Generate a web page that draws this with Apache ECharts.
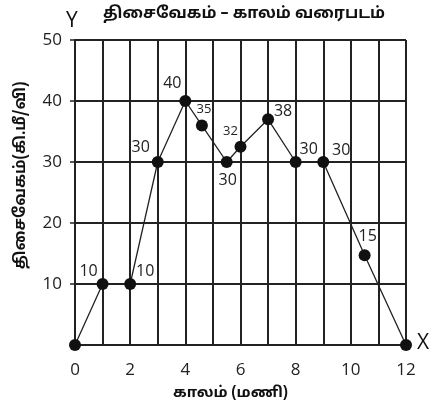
<!DOCTYPE html>
<html>
<head>
<meta charset="utf-8">
<script src="https://cdn.jsdelivr.net/npm/echarts@6/dist/echarts.min.js"></script>
<style>
  html, body { margin: 0; padding: 0; background: #fff; }
  #chart { width: 431px; height: 410px; }
</style>
</head>
<body>
<div id="chart"></div>
<script>
// time (hours) and velocity
const timeVals = [0, 1, 2, 3, 4, 4.6, 5.5, 6, 7, 8, 9, 10.5, 12]
const speedVals = [0, 10, 10, 30, 40, 36, 30, 32.5, 37, 30, 30, 14.7, 0]
// the labels printed next to each point
const pointLabels = ['', '10', '10', '30', '40', '35', '30', '32', '38', '30', '30', '15', '']
const xTicks = [0, 2, 4, 6, 8, 10, 12]
const yTicks = [10, 20, 30, 40, 50]

// where each label sits round its dot (px)
const labelOffset = [[0, 0], [-14, -13], [15, -13], [-17, -15], [-13, -18], [2, -16],
    [1, 18], [-10, -15], [15, -8], [13, -13], [18, -12], [3, -19], [0, 0]]

const font = '"Open Sans", "Noto Sans", "Noto Sans Tamil", sans-serif'
const tamilFont = '"Noto Sans Tamil", "Noto Sans", sans-serif'

let data = []
for (let i = 0; i < timeVals.length; i++) {
    let small = pointLabels[i] == '35' || pointLabels[i] == '32'
    data.push({
        value: [timeVals[i], speedVals[i]],
        label: {
            show: pointLabels[i] !== '',
            formatter: pointLabels[i],
            position: 'inside',
            align: 'center',
            verticalAlign: 'middle',
            offset: labelOffset[i],
            fontSize: small ? 13 : 16
        }
    })
}

let myChart = echarts.init(document.getElementById('chart'))
let option = {
    animation: false,
    title: {
        text: 'திசைவேகம் – காலம் வரைபடம்',
        left: 239,
        textAlign: 'center',
        top: 2,
        textStyle: { fontSize: 16, fontWeight: 'bold', color: '#111', fontFamily: tamilFont }
    },
    grid: { left: 75, right: 25, top: 40, bottom: 65 },
    xAxis: {
        type: 'value',
        min: 0, max: 12, interval: 1,
        name: 'காலம் (மணி)',
        nameLocation: 'middle',
        nameGap: 41,
        nameTextStyle: { fontSize: 15, fontWeight: 'bold', color: '#111', fontFamily: tamilFont, padding: [0, 20, 0, 0] },
        axisLine: { lineStyle: { color: '#222', width: 1.5 } },
        axisTick: { show: false },
        axisLabel: {
            color: '#222', fontSize: 17, fontFamily: font, margin: 17,
            formatter: function (v) { return xTicks.indexOf(v) >= 0 ? String(v) : '' }
        },
        splitLine: { show: true, lineStyle: { color: '#222', width: 2 } }
    },
    yAxis: {
        type: 'value',
        min: 0, max: 50, interval: 10,
        name: 'திசைவேகம்(கி.மீ/வி)',
        nameLocation: 'middle',
        nameGap: 45,
        nameTextStyle: { fontSize: 15.5, fontWeight: 'bold', color: '#111', fontFamily: tamilFont, padding: [0, 0, 0, 34] },
        axisLine: { show: true, lineStyle: { color: '#222', width: 2 } },
        axisTick: { show: true, length: 5, lineStyle: { color: '#222', width: 1.5 } },
        axisLabel: {
            color: '#222', fontSize: 17, fontFamily: font, margin: 13,
            formatter: function (v) { return yTicks.indexOf(v) >= 0 ? String(v) : '' }
        },
        splitLine: { show: true, lineStyle: { color: '#222', width: 2 } }
    },
    graphic: [
        { type: 'text', left: 66, top: 11, style: { text: 'Y', fontSize: 21, fill: '#111', fontFamily: font } },
        { type: 'text', left: 417, top: 333, style: { text: 'X', fontSize: 21, fill: '#111', fontFamily: font } }
    ],
    series: [
        {
            type: 'line',
            data: data,
            symbol: 'circle',
            symbolSize: 12,
            itemStyle: { color: '#111' },
            lineStyle: { color: '#222', width: 1.3 },
            label: { color: '#222', fontFamily: font }
        }
    ]
}
myChart.setOption(option)
</script>
</body>
</html>
